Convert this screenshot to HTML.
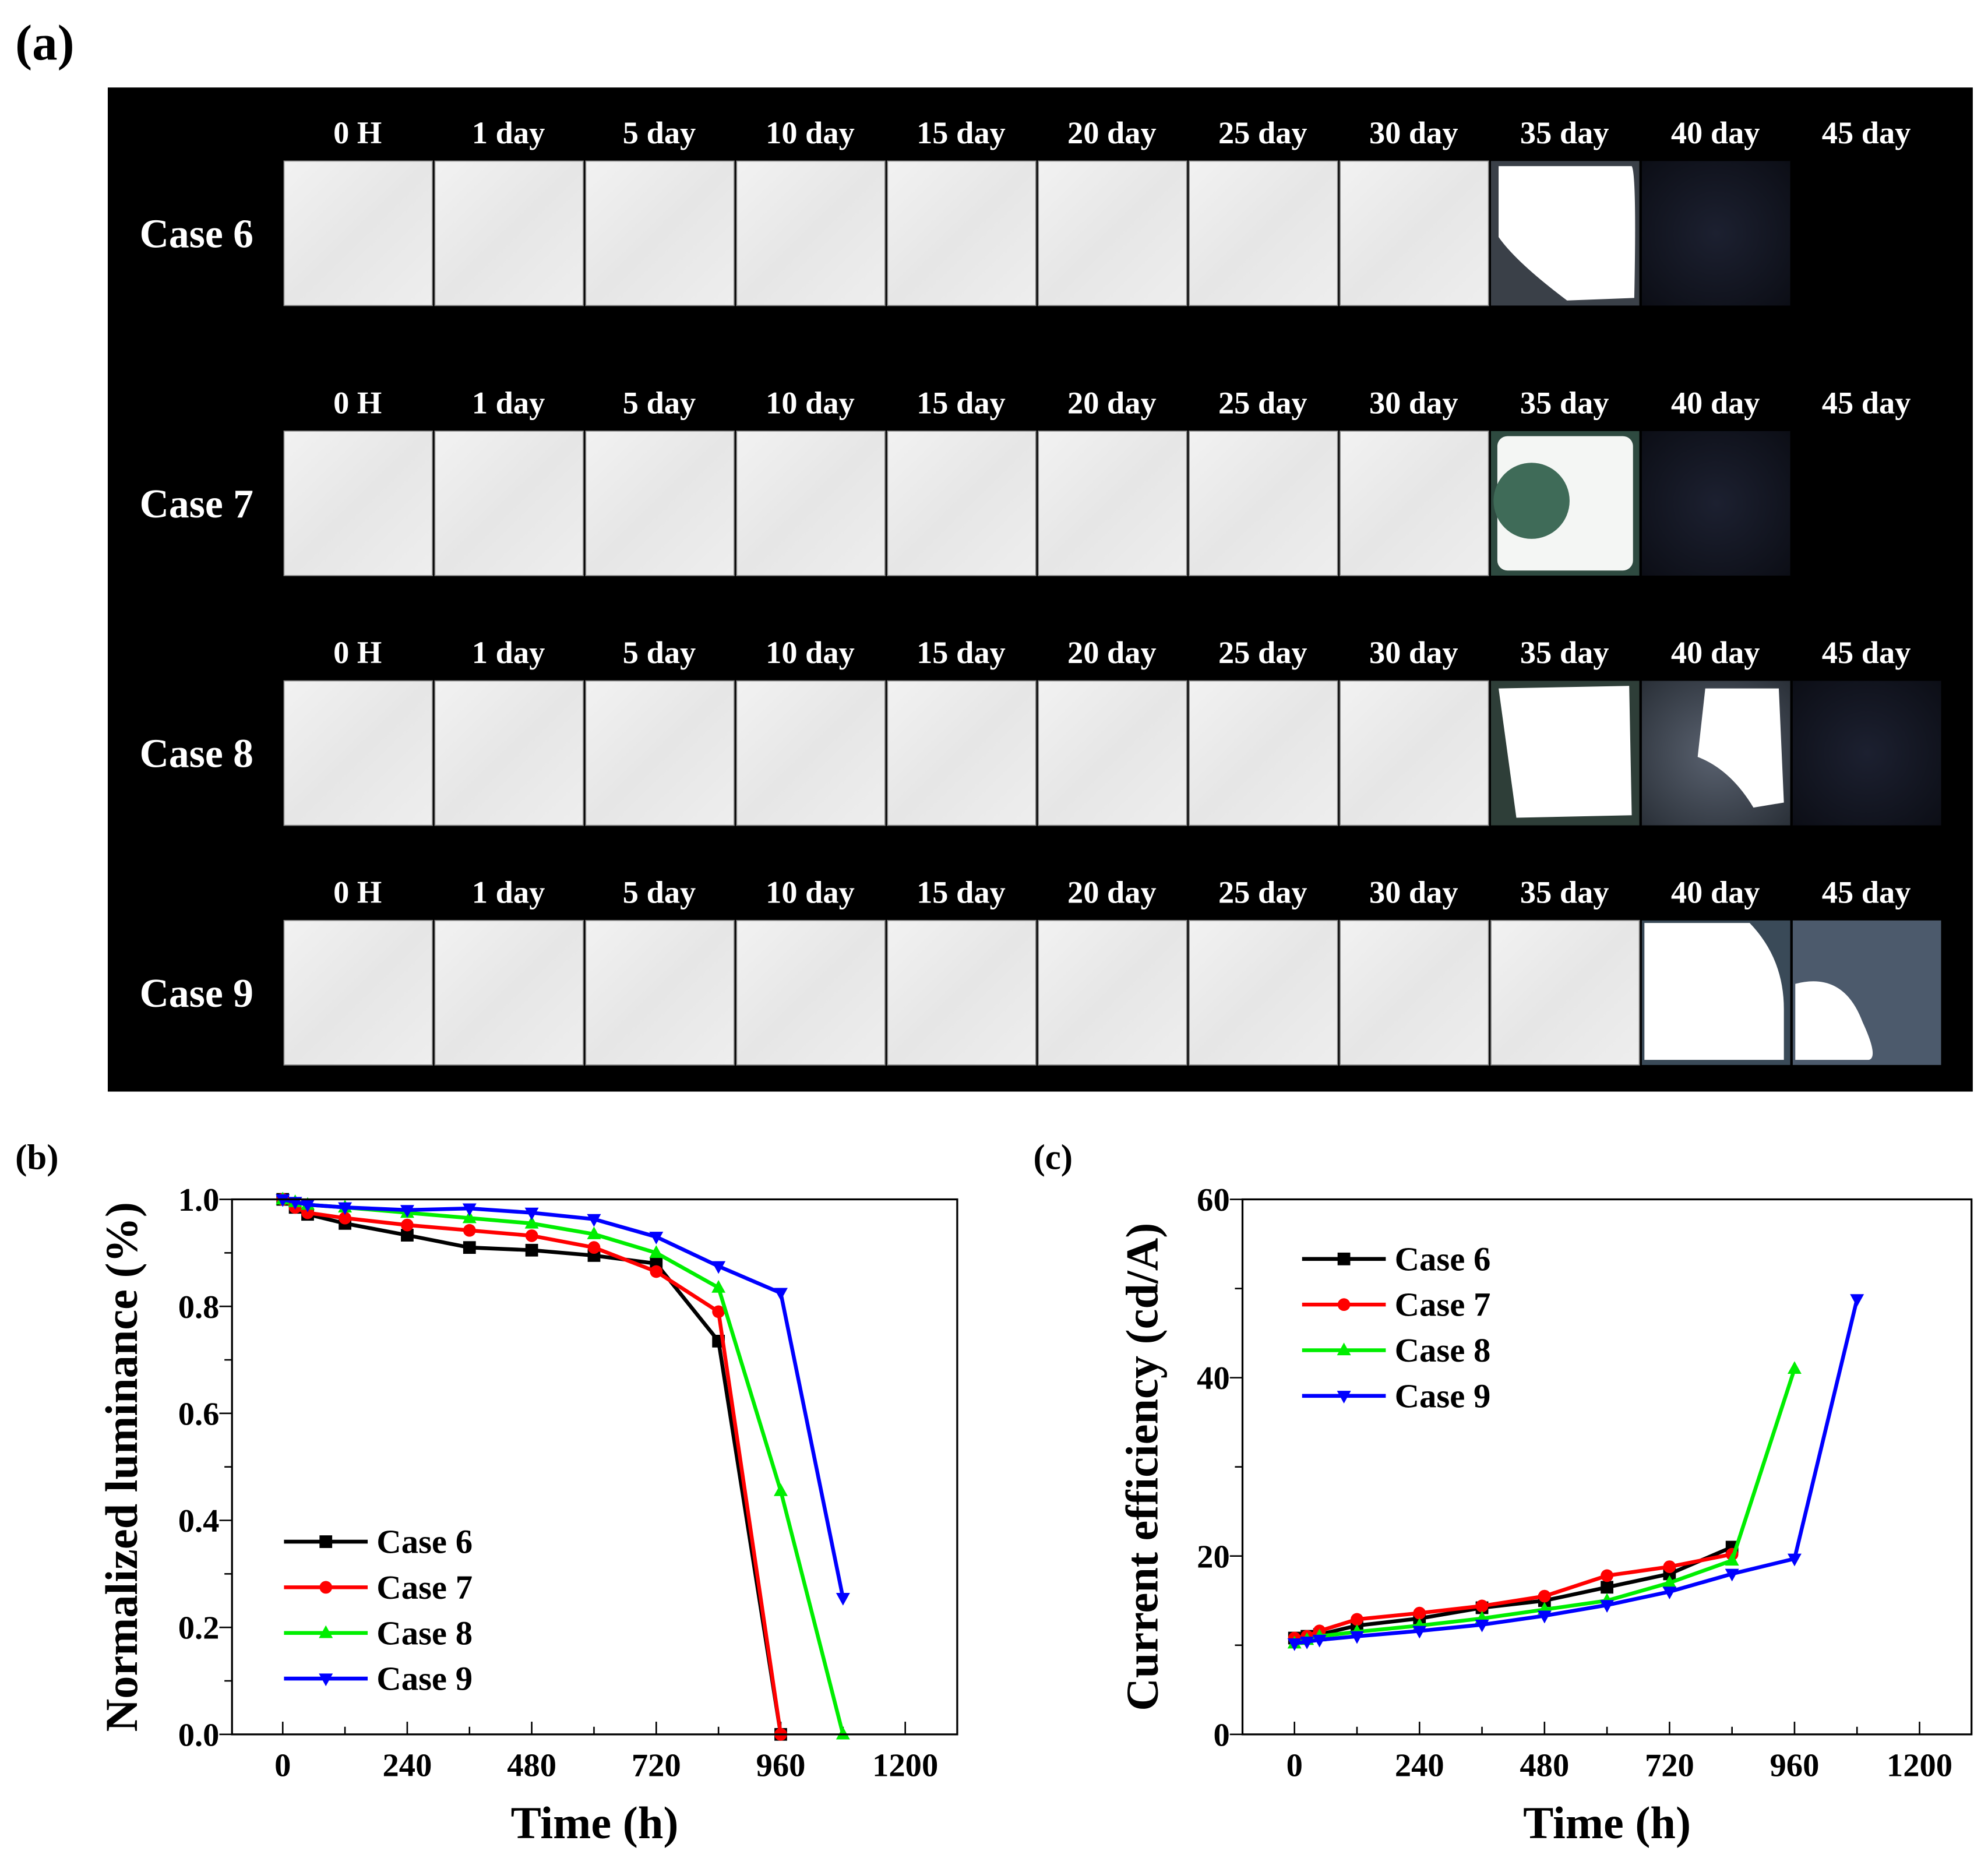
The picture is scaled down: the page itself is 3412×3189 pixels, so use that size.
<!DOCTYPE html>
<html><head><meta charset="utf-8"><style>
html,body{margin:0;padding:0;background:#fff;}
svg{display:block;}
text{font-family:"Liberation Serif",serif;font-weight:bold;}
</style></head><body>
<svg id="fig" xmlns="http://www.w3.org/2000/svg" width="3412" height="3189" viewBox="0 0 1568 1465.5">
<defs>
<linearGradient id="tileg" x1="0" y1="0" x2="1" y2="1"><stop offset="0" stop-color="#f2f2f2"/><stop offset="0.5" stop-color="#e6e6e6"/><stop offset="1" stop-color="#eeeeee"/></linearGradient>
<radialGradient id="darkg" cx="0.5" cy="0.5" r="0.7"><stop offset="0" stop-color="#1c2030"/><stop offset="1" stop-color="#0c0e16"/></radialGradient>
<radialGradient id="dimg" cx="0.5" cy="0.5" r="0.7"><stop offset="0" stop-color="#5a6270"/><stop offset="1" stop-color="#2a3038"/></radialGradient>
</defs>
<text x="12" y="47" font-size="40">(a)</text>
<rect x="85" y="69" width="1471" height="792" fill="#000"/>
<g id="photos"></g>
<text x="12" y="922" font-size="28">(b)</text>
<text x="815" y="922" font-size="28">(c)</text>
<g id="chartB"></g>
<g id="chartC"></g>
</svg>
<script>
const NS='http://www.w3.org/2000/svg';
function mk(parent,tag,attrs,txt){const e=document.createElementNS(NS,tag);for(const k in attrs)e.setAttribute(k,attrs[k]);if(txt!==undefined)e.textContent=txt;parent.appendChild(e);return e;}

// ---- photo grid data ----
const dayLabels=['0 H','1 day','5 day','10 day','15 day','20 day','25 day','30 day','35 day','40 day','45 day'];
const caseLabels=['Case 6','Case 7','Case 8','Case 9'];
const tileStates=[
 ['w','w','w','w','w','w','w','w','c6','d','n'],
 ['w','w','w','w','w','w','w','w','c7','d','n'],
 ['w','w','w','w','w','w','w','w','c8a','c8b','d'],
 ['w','w','w','w','w','w','w','w','w','c9a','c9b']
];
const rowLabelY=[105,318,515,704];
const rowTileY=[127,340,537,726];
const ph=document.getElementById('photos');
for(let r=0;r<4;r++){
  let t=mk(ph,'text',{x:155,y:rowLabelY[r]+90,'font-size':32,fill:'#fff','text-anchor':'middle'},caseLabels[r]);
  
  
  for(let c=0;c<11;c++){
    const x=224+c*119, y=rowTileY[r], w=117, h=114;
    let l=mk(ph,'text',{x:x+58,y:rowLabelY[r]+8,'font-size':25,fill:'#fff','text-anchor':'middle'},dayLabels[c]);
    
    
    const s=tileStates[r][c];
    if(s==='n') continue;
    const g=mk(ph,'g',{});
    
    
    if(s==='w'){mk(g,'rect',{x:x,y:y,width:w,height:h,fill:'url(#tileg)',stroke:'#888','stroke-width':0.8});}
    else if(s==='d'){mk(g,'rect',{x:x,y:y,width:w,height:h,fill:'url(#darkg)'});}
    else if(s==='c6'){mk(g,'rect',{x:x,y:y,width:w,height:h,fill:'#3a4048'});
      mk(g,'path',{d:`M${x+6} ${y+4} L${x+w-6} ${y+4} Q${x+w-2} ${y+10} ${x+w-4} ${y+h-6} L${x+60} ${y+h-4} Q${x+20} ${y+80} ${x+6} ${y+60} Z`,fill:'#fff'});}
    else if(s==='c7'){mk(g,'rect',{x:x,y:y,width:w,height:h,fill:'#2e4a40'});
      mk(g,'rect',{x:x+5,y:y+4,width:w-10,height:h-8,rx:8,fill:'#f4f6f4'});
      mk(g,'circle',{cx:x+32,cy:y+55,r:30,fill:'#3f6b58'});}
    else if(s==='c8a'){mk(g,'rect',{x:x,y:y,width:w,height:h,fill:'#2e3e38'});
      mk(g,'path',{d:`M${x+6} ${y+6} L${x+w-8} ${y+4} L${x+w-6} ${y+h-8} L${x+20} ${y+h-6} Z`,fill:'#fff'});}
    else if(s==='c8b'){mk(g,'rect',{x:x,y:y,width:w,height:h,fill:'url(#dimg)'});
      mk(g,'path',{d:`M${x+50} ${y+6} L${x+108} ${y+6} L${x+112} ${y+96} L${x+88} ${y+100} Q${x+70} ${y+70} ${x+44} ${y+60} Z`,fill:'#fff'});}
    else if(s==='c9a'){mk(g,'rect',{x:x,y:y,width:w,height:h,fill:'#3a4a58'});
      mk(g,'path',{d:`M${x+2} ${y+2} L${x+85} ${y+2} Q${x+112} ${y+30} ${x+112} ${y+70} L${x+112} ${y+h-4} L${x+2} ${y+h-4} Z`,fill:'#fff'});}
    else if(s==='c9b'){mk(g,'rect',{x:x,y:y,width:w,height:h,fill:'#4c5a6c'});
      mk(g,'path',{d:`M${x+2} ${y+50} Q${x+40} ${y+40} ${x+55} ${y+80} Q${x+68} ${y+108} ${x+60} ${y+110} L${x+2} ${y+110} Z`,fill:'#fff'});}
  }
}

// ---- chart data ----
const timeB=[0,24,48,120,240,360,480,600,720,840,960,1080];
const lumCase6=[1.0,0.985,0.972,0.955,0.933,0.91,0.905,0.895,0.88,0.735,0.0];
const lumCase7=[1.0,0.985,0.975,0.965,0.952,0.942,0.932,0.91,0.865,0.79,0.0];
const lumCase8=[1.0,0.995,0.99,0.985,0.975,0.965,0.955,0.935,0.9,0.835,0.455,0.0];
const lumCase9=[1.0,0.995,0.99,0.985,0.98,0.983,0.975,0.963,0.93,0.875,0.825,0.255];
const ceCase6=[10.8,11.0,11.2,12.2,13.0,14.2,15.0,16.5,18.0,21.0];
const ceCase7=[10.8,11.0,11.6,12.9,13.6,14.4,15.5,17.8,18.8,20.2];
const ceCase8=[10.2,10.6,11.0,11.5,12.2,13.0,14.0,15.0,17.0,19.5,41.0];
const ceCase9=[10.2,10.4,10.6,11.0,11.6,12.3,13.3,14.5,16.0,18.0,19.7,48.8];
const xTicks=[0,240,480,720,960,1200];
const yTicksB=['0.0','0.2','0.4','0.6','0.8','1.0'];
const yTicksC=['0','20','40','60'];
const seriesNames=['Case 6','Case 7','Case 8','Case 9'];
const colors=['#000000','#ff0000','#00ee00','#0000ff'];
const markers=['square','circle','up','down'];

function marker(g,type,x,y,col,s){
  let m;
  if(type==='square') m=mk(g,'rect',{x:x-s,y:y-s,width:2*s,height:2*s,fill:col});
  else if(type==='circle') m=mk(g,'circle',{cx:x,cy:y,r:s,fill:col});
  else if(type==='up') m=mk(g,'path',{d:`M${x} ${y-s*1.2} L${x+s*1.1} ${y+s*0.8} L${x-s*1.1} ${y+s*0.8} Z`,fill:col});
  else m=mk(g,'path',{d:`M${x} ${y+s*1.2} L${x+s*1.1} ${y-s*0.8} L${x-s*1.1} ${y-s*0.8} Z`,fill:col});
  
  
}

function drawChart(gid,box,x0px,x1200px,ymax,yticks,series,ytitle,leg){
  const g=document.getElementById(gid);
  const [L,T,R,B]=box;
  const sx=v=>x0px+(x1200px-x0px)*v/1200;
  const sy=v=>B-(B-T)*v/ymax;
  for(let v=120;v<=1200;v+=240){mk(g,'line',{x1:sx(v),x2:sx(v),y1:B,y2:B-6,stroke:'#000','stroke-width':1.2});}
  const nt=yticks.length-1;
  for(let i=0;i<nt;i++){const v=(i+0.5)*ymax/nt;mk(g,'line',{x1:L,x2:L-6,y1:sy(v),y2:sy(v),stroke:'#000','stroke-width':1.2});}
  xTicks.forEach(v=>{
    mk(g,'line',{x1:sx(v),x2:sx(v),y1:B,y2:B-10,stroke:'#000','stroke-width':1.2});
    const t=mk(g,'text',{x:sx(v),y:B+33,'font-size':26,'text-anchor':'middle'},String(v));
    
    
  });
  yticks.forEach((lab,i)=>{
    const v=i*ymax/nt;
    mk(g,'line',{x1:L,x2:L-10,y1:sy(v),y2:sy(v),stroke:'#000','stroke-width':1.2});
    const t=mk(g,'text',{x:L-10,y:sy(v)+9,'font-size':26,'text-anchor':'end'},lab);
    
    
  });
  series.forEach((ys,si)=>{
    const sg=mk(g,'g',{});
    
    
    const pts=ys.map((v,i)=>sx(timeB[i])+','+sy(v)).join(' ');
    mk(sg,'polyline',{points:pts,fill:'none',stroke:colors[si],'stroke-width':3,'stroke-linejoin':'round'});
    ys.forEach((v,i)=>marker(sg,markers[si],sx(timeB[i]),sy(v),colors[si],5));
  });
  const fr=mk(g,'rect',{x:L,y:T,width:R-L,height:B-T,fill:'none',stroke:'#000','stroke-width':1.5});
  
  
  const xt=mk(g,'text',{x:(L+R)/2,y:B+82,'font-size':36,'text-anchor':'middle'},'Time (h)');
  
  
  const yt=mk(g,'text',{x:0,y:0,'font-size':36,'text-anchor':'middle',transform:`translate(${ytitle[1]},${(T+B)/2}) rotate(-90)`},ytitle[0]);
  
  
  seriesNames.forEach((n,i)=>{
    const lg=mk(g,'g',{});
    
    
    const y=leg[1]+i*36;
    mk(lg,'line',{x1:leg[0],x2:leg[0]+66,y1:y,y2:y,stroke:colors[i],'stroke-width':3});
    marker(lg,markers[i],leg[0]+33,y,colors[i],5);
    mk(lg,'text',{x:leg[0]+73,y:y+9,'font-size':27},n);
  });
}
drawChart('chartB',[183,946,755,1368],223,714,1.0,yTicksB,[lumCase6,lumCase7,lumCase8,lumCase9],['Normalized luminance (%)',108],[224,1216]);
drawChart('chartC',[980,946,1555,1368],1021,1514,60,yTicksC,[ceCase6,ceCase7,ceCase8,ceCase9],['Current efficiency (cd/A)',913],[1027,993]);
</script>
</body></html>
